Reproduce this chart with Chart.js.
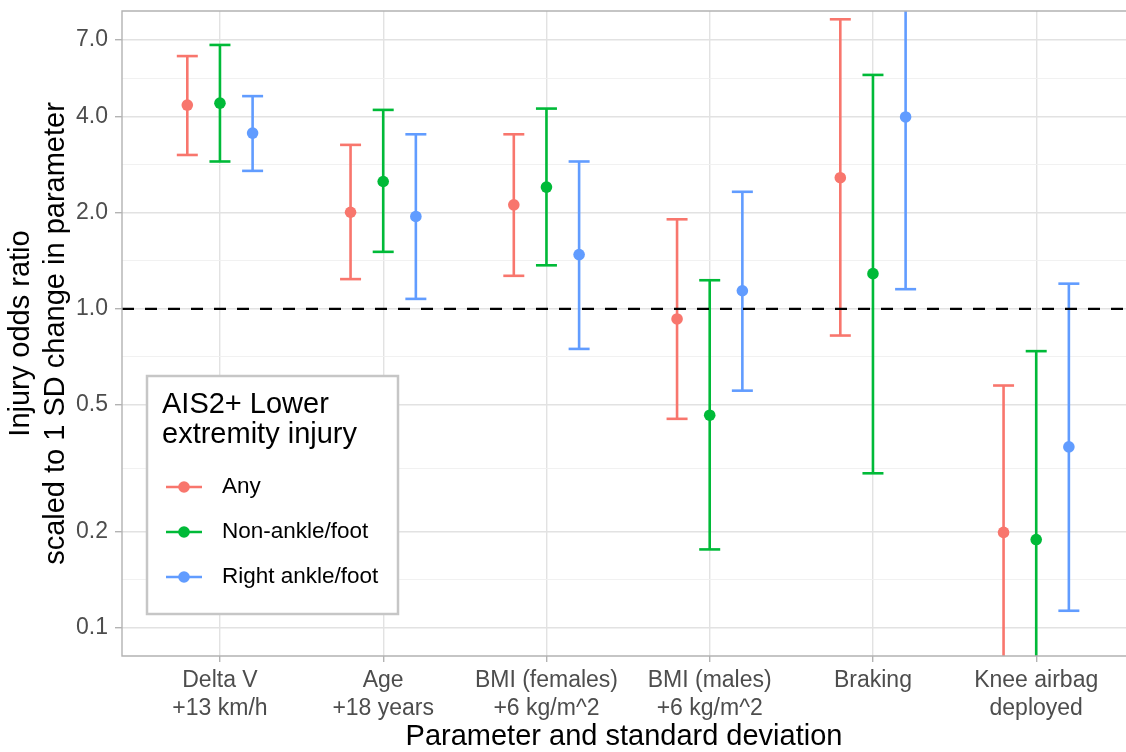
<!DOCTYPE html>
<html>
<head>
<meta charset="utf-8">
<script src="https://cdn.jsdelivr.net/npm/chart.js@4.4.0/dist/chart.umd.min.js"></script>
<style>
  html, body { margin: 0; padding: 0; background: #fff; }
</style>
</head>
<body>
<canvas id="chart" width="1126" height="752"></canvas>
<script>
// categories (x axis), one multi-line label each
const categories = [
    ['Delta V', '+13 km/h'],
    ['Age', '+18 years'],
    ['BMI (females)', '+6 kg/m^2'],
    ['BMI (males)', '+6 kg/m^2'],
    ['Braking'],
    ['Knee airbag', 'deployed']
];
const legendTitle = ['AIS2+ Lower', 'extremity injury'];
const seriesNames = ['Any', 'Non-ankle/foot', 'Right ankle/foot'];
const seriesColors = ['#F8766D', '#00BA38', '#619CFF'];
const dodge = [-0.2, 0, 0.2];

// odds ratios with lower / upper confidence limits
const anyOdds = [4.36, 2.01, 2.12, 0.93, 2.58, 0.199];
const anyLower = [3.04, 1.24, 1.27, 0.452, 0.825, 0.06];
const anyUpper = [6.21, 3.27, 3.53, 1.91, 8.10, 0.575];

const nonAnkleOdds = [4.42, 2.51, 2.41, 0.464, 1.29, 0.189];
const nonAnkleLower = [2.90, 1.51, 1.37, 0.176, 0.305, 0.05];
const nonAnkleUpper = [6.73, 4.21, 4.25, 1.23, 5.42, 0.737];

const rightAnkleOdds = [3.56, 1.95, 1.48, 1.14, 4.0, 0.369];
const rightAnkleLower = [2.71, 1.075, 0.749, 0.554, 1.153, 0.113];
const rightAnkleUpper = [4.65, 3.53, 2.90, 2.33, 9.5, 1.20];

const yMajorTicks = [0.1, 0.2, 0.5, 1, 2, 4, 7];
const yMinorTicks = [0.1414, 0.3162, 0.7071, 1.4142, 2.8284, 5.2915];
const yRange = [0.0815, 8.6];
// the panel is cut off at the right edge of the picture
const xRange = [0.4, 6.55];
const referenceLine = 1;

const oddsBySeries = [anyOdds, nonAnkleOdds, rightAnkleOdds];
const lowerBySeries = [anyLower, nonAnkleLower, rightAnkleLower];
const upperBySeries = [anyUpper, nonAnkleUpper, rightAnkleUpper];

const FONT = '"Liberation Sans", Arial, sans-serif';
Chart.defaults.font.family = FONT;

const datasets = [{
    data: [{ x: xRange[0], y: referenceLine }, { x: xRange[1], y: referenceLine }],
    showLine: true,
    borderColor: '#000',
    borderWidth: 2.4,
    borderDash: [12, 11],
    pointRadius: 0,
    order: 0
}];

seriesNames.forEach(function (name, s) {
    const color = seriesColors[s];
    datasets.push({
        label: name,
        data: oddsBySeries[s].map((v, i) => ({ x: i + 1 + dodge[s], y: v })),
        pointRadius: 5.8,
        pointBackgroundColor: color,
        pointBorderWidth: 0,
        order: 1
    });
    const bars = [];
    lowerBySeries[s].forEach(function (lo, i) {
        const x = i + 1 + dodge[s];
        bars.push({ x: x, y: lo }, { x: x, y: upperBySeries[s][i] }, { x: x, y: null });
    });
    datasets.push({
        data: bars,
        showLine: true,
        spanGaps: false,
        borderColor: color,
        borderWidth: 2.6,
        pointStyle: 'line',
        pointRadius: 10.5,
        pointBorderColor: color,
        pointBorderWidth: 2.6,
        order: 2
    });
});

const isMajorY = v => yMajorTicks.includes(v);

// panel border (left, top, bottom) and the boxed legend inside the plot
const panelAndLegend = {
    id: 'panelAndLegend',
    afterDatasetsDraw(chart) {
        const { ctx, chartArea: a } = chart;
        ctx.save();
        ctx.strokeStyle = '#b3b3b3';
        ctx.lineWidth = 1.4;
        ctx.beginPath();
        ctx.moveTo(a.right + 2, a.top);
        ctx.lineTo(a.left, a.top);
        ctx.lineTo(a.left, a.bottom);
        ctx.lineTo(a.right + 2, a.bottom);
        ctx.stroke();

        const bx = 147, by = 376, bw = 251, bh = 238;
        ctx.fillStyle = '#fff';
        ctx.fillRect(bx, by, bw, bh);
        ctx.strokeStyle = '#c6c6c6';
        ctx.lineWidth = 2.5;
        ctx.strokeRect(bx, by, bw, bh);

        ctx.fillStyle = '#000';
        ctx.textAlign = 'left';
        ctx.textBaseline = 'alphabetic';
        ctx.font = '29px ' + FONT;
        legendTitle.forEach((t, i) => ctx.fillText(t, 162, 413 + i * 30));

        ctx.font = '22.5px ' + FONT;
        ctx.textBaseline = 'middle';
        seriesNames.forEach(function (name, s) {
            const y = 487 + s * 45;
            ctx.strokeStyle = seriesColors[s];
            ctx.lineWidth = 2.6;
            ctx.beginPath();
            ctx.moveTo(166, y);
            ctx.lineTo(202, y);
            ctx.stroke();
            ctx.fillStyle = seriesColors[s];
            ctx.beginPath();
            ctx.arc(184, y, 5.8, 0, Math.PI * 2);
            ctx.fill();
            ctx.fillStyle = '#000';
            ctx.fillText(name, 222, y);
        });
        ctx.restore();
    }
};

new Chart(document.getElementById('chart').getContext('2d'), {
    type: 'scatter',
    data: { datasets: datasets },
    options: {
        responsive: false,
        animation: false,
        events: [],
        devicePixelRatio: 1,
        layout: { autoPadding: false, padding: { top: 11, right: 0, left: 0, bottom: 0 } },
        plugins: { legend: { display: false }, tooltip: { enabled: false } },
        scales: {
            x: {
                type: 'linear',
                min: xRange[0],
                max: xRange[1],
                bounds: 'data',
                afterBuildTicks: sc => { sc.ticks = categories.map((c, i) => ({ value: i + 1 })); },
                afterFit: sc => { sc.height = 96; sc.paddingLeft = 0; sc.paddingRight = 0; },
                ticks: {
                    autoSkip: false,
                    maxRotation: 0,
                    padding: 5,
                    color: '#4d4d4d',
                    font: { size: 23 },
                    callback: v => categories[Math.round(v) - 1]
                },
                grid: { color: '#e2e2e2', lineWidth: 1.4, tickLength: 6, tickColor: '#b3b3b3', tickWidth: 1.4 },
                border: { display: false },
                title: {
                    display: true,
                    text: 'Parameter and standard deviation',
                    color: '#000',
                    font: { size: 29 },
                    padding: { top: 0, bottom: -2 }
                }
            },
            y: {
                type: 'logarithmic',
                min: yRange[0],
                max: yRange[1],
                bounds: 'data',
                afterBuildTicks: sc => {
                    sc.ticks = yMajorTicks.concat(yMinorTicks).sort((a, b) => a - b).map(v => ({ value: v }));
                },
                afterFit: sc => { sc.width = 122; sc.paddingTop = 0; sc.paddingBottom = 0; },
                ticks: {
                    autoSkip: false,
                    padding: 7,
                    color: '#4d4d4d',
                    font: { size: 23 },
                    callback: v => isMajorY(v) ? v.toFixed(1) : ''
                },
                grid: {
                    color: c => (c.tick && isMajorY(c.tick.value)) ? '#e2e2e2' : '#efefef',
                    lineWidth: c => (c.tick && isMajorY(c.tick.value)) ? 1.4 : 0.9,
                    tickLength: 7,
                    tickColor: c => (c.tick && isMajorY(c.tick.value)) ? '#b3b3b3' : 'rgba(0,0,0,0)',
                    tickWidth: 1.4
                },
                border: { display: false },
                title: {
                    display: true,
                    text: ['Injury odds ratio', 'scaled to 1 SD change in parameter'],
                    color: '#000',
                    font: { size: 29 },
                    padding: { top: 4, bottom: 0 }
                }
            }
        }
    },
    plugins: [panelAndLegend]
});
</script>
</body>
</html>
